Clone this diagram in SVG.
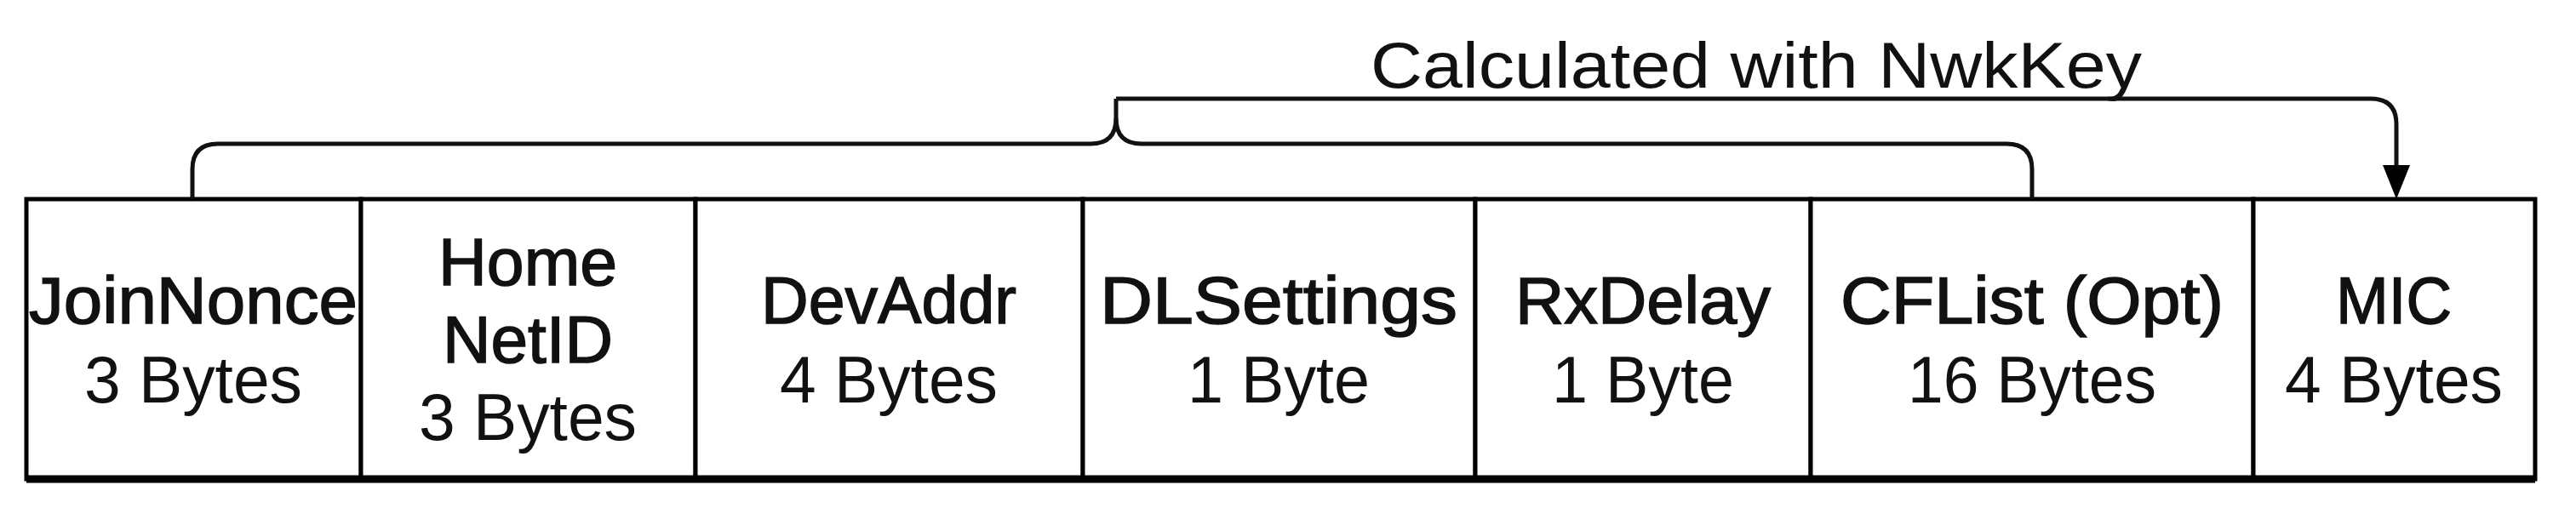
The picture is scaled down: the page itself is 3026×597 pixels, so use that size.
<svg xmlns="http://www.w3.org/2000/svg" width="3026" height="597" viewBox="0 0 3026 597">
<style>
.b{fill:#fff;stroke:#000;stroke-width:5}
.t{font-family:"Liberation Sans",Arial,sans-serif;font-size:78px;text-anchor:middle;fill:#111}
.h{stroke:#111;stroke-width:1.5}
.c{fill:none;stroke:#111;stroke-width:5}
</style>
<rect x="0" y="0" width="3026" height="597" fill="#fff"/>
<g id="n1"><rect class="b" x="31" y="234" width="393" height="329"/><text class="t h" x="227" y="380" textLength="386" lengthAdjust="spacingAndGlyphs">JoinNonce</text><text class="t" x="227" y="473" textLength="256" lengthAdjust="spacingAndGlyphs">3 Bytes</text></g>
<g id="n2"><rect class="b" x="424" y="234" width="393" height="329"/><text class="t h" x="620" y="335" textLength="210" lengthAdjust="spacingAndGlyphs">Home</text><text class="t h" x="620" y="426" textLength="200" lengthAdjust="spacingAndGlyphs">NetID</text><text class="t" x="620" y="517" textLength="256" lengthAdjust="spacingAndGlyphs">3 Bytes</text></g>
<g id="n3"><rect class="b" x="817" y="234" width="455" height="329"/><text class="t h" x="1044" y="380" textLength="300" lengthAdjust="spacingAndGlyphs">DevAddr</text><text class="t" x="1044" y="473" textLength="256" lengthAdjust="spacingAndGlyphs">4 Bytes</text></g>
<g id="n4"><rect class="b" x="1272" y="234" width="461" height="329"/><text class="t h" x="1502" y="380" textLength="420" lengthAdjust="spacingAndGlyphs">DLSettings</text><text class="t" x="1502" y="473" textLength="214" lengthAdjust="spacingAndGlyphs">1 Byte</text></g>
<g id="n5"><rect class="b" x="1733" y="234" width="394" height="329"/><text class="t h" x="1930" y="380" textLength="300" lengthAdjust="spacingAndGlyphs">RxDelay</text><text class="t" x="1930" y="473" textLength="214" lengthAdjust="spacingAndGlyphs">1 Byte</text></g>
<g id="n6"><rect class="b" x="2127" y="234" width="520" height="329"/><text class="t h" x="2387" y="380" textLength="450" lengthAdjust="spacingAndGlyphs">CFList (Opt)</text><text class="t" x="2387" y="473" textLength="292" lengthAdjust="spacingAndGlyphs">16 Bytes</text></g>
<g id="n7"><rect class="b" x="2647" y="234" width="331" height="329"/><text class="t h" x="2812" y="380" textLength="136" lengthAdjust="spacingAndGlyphs">MIC</text><text class="t" x="2812" y="473" textLength="256" lengthAdjust="spacingAndGlyphs">4 Bytes</text></g>
<line x1="31" y1="563" x2="2978" y2="563" stroke="#000" stroke-width="9"/>
<g id="connectors">
<path class="c" d="M226,234 V199 Q226,169 256,169 H1281 Q1311,169 1311,139 V116"/>
<path class="c" d="M1311,139 Q1311,169 1341,169 H2357 Q2387,169 2387,199 V234"/>
<path class="c" d="M1311,116 H2785 Q2815,116 2815,146 V205"/>
<path d="M2799,194 L2831,194 L2815,234 Z" fill="#000"/>
</g>
<text class="t" x="2063" y="103" textLength="906" lengthAdjust="spacingAndGlyphs" style="font-size:76px">Calculated with NwkKey</text>
</svg>
